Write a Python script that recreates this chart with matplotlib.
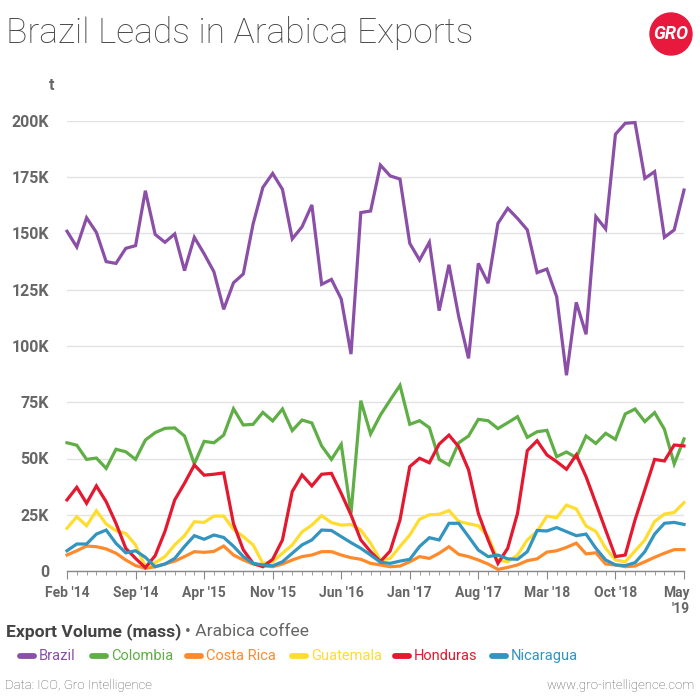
import matplotlib
matplotlib.use("Agg")
import matplotlib.pyplot as plt
import matplotlib.ticker as ticker
import matplotlib.transforms as mtransforms
from matplotlib.lines import Line2D
from matplotlib.patches import Circle
import numpy as np

plt.rcParams['font.family'] = ['Roboto', 'DejaVu Sans']

# monthly exports, thousand tonnes, Feb 2014 .. May 2019
brazil = [151, 144, 157, 150.5, 137.5, 136.7, 143.4, 144.6, 169, 149.6, 146.1, 149.8, 133.5, 148.3, 141, 133,
          116.3, 128.1, 132, 154.2, 170.5, 176.7, 169.6, 147.6, 153, 162.7, 127.4, 129.6, 120.9, 96.4, 159.3, 160,
          180.4, 175.6, 174.2, 145.6, 138.2, 146.1, 115.7, 136.1, 113, 94.5, 136.7, 127.9, 154.5, 161.2, 156.7, 151.6,
          132.6, 134.2, 121.9, 87, 119.4, 105.2, 157.5, 152, 194.1, 199, 199.3, 174.5, 177.5, 148.3, 151.6, 169.3]
colombia = [57, 55.9, 49.6, 50.2, 45.6, 54.1, 53, 49.6, 58.2, 61.5, 63.4, 63.6, 60, 47.6, 57.6, 57,
            60.4, 72.1, 64.9, 65.2, 70.5, 66.7, 72, 62.4, 67.1, 65.8, 55.6, 49.6, 56.3, 25.6, 75.7, 60.9,
            69.3, 76, 82.5, 65.2, 66.8, 63.7, 49.6, 47.1, 57, 60, 67.4, 66.8, 63.3, 65.9, 68.6, 59.4,
            61.9, 62.5, 50.8, 52.9, 50.4, 60, 56.7, 61.2, 58.5, 69.8, 72, 66.4, 70.4, 63, 47.6, 58.7]
costa_rica = [7.1, 9, 11.1, 10.8, 9.8, 7.9, 4.9, 2.4, 1.2, 1.9, 3.1, 4.4, 6.4, 8.6, 8.3, 8.7,
              11.1, 7.1, 4.9, 3.1, 2.3, 1.9, 3.1, 4.9, 6.4, 7.1, 8.6, 8.6, 7.1, 5.9, 5.2, 3.4,
              2.7, 1.9, 2.2, 4.1, 6.4, 5.6, 7.9, 10.8, 7.4, 6.4, 4.9, 3.1, 0.7, 1.6, 2.7, 4.6,
              5.4, 8.4, 9, 10.5, 12.4, 7.6, 8.1, 3.1, 2.7, 1.9, 2.2, 4.1, 6.1, 7.9, 9.5, 9.5]
guatemala = [19, 24.1, 20.1, 26.8, 20.9, 17.9, 16.7, 11.6, 2, 3.7, 6.4, 11.6, 15.7, 21.9, 21.6, 24.4,
             24.4, 18.5, 15.3, 11.6, 3.4, 4.1, 7.9, 11.6, 17.4, 20.4, 24.6, 21.5, 20.4, 20.7, 18.2, 12.3,
             4.9, 5.6, 10.9, 16, 23, 25, 25.2, 26.9, 22, 21, 20.1, 15.3, 4.9, 4.1, 7.1, 13.8,
             17.6, 24.4, 23.7, 29.3, 27.6, 20, 17.6, 10.1, 4.9, 4.1, 8.9, 13.8, 22, 25.3, 26, 30.4]
honduras = [31.6, 37.2, 30.1, 37.8, 30.8, 21.2, 10.1, 5.6, 1.5, 6.8, 17.6, 31.6, 39, 47.1, 42.6, 43,
            43.6, 21, 9.4, 3.4, 1.9, 5.2, 13.8, 35.3, 42.7, 37.8, 43, 43.4, 34.5, 24.9, 13.8, 8.6,
            4.2, 8.9, 22.7, 46.4, 50.1, 48.1, 56.4, 60.4, 55.2, 45, 25.6, 13.8, 3.4, 10.1, 25.6, 53.5,
            57.9, 51.6, 48.6, 45.2, 51.6, 41.9, 30.1, 18.2, 6.4, 7.1, 22.7, 36.1, 49.6, 48.9, 56, 55.6]
nicaragua = [9, 12, 12, 16.4, 18.2, 12.3, 8.1, 9, 6.1, 1.9, 3.1, 5.6, 10.9, 15.7, 14.1, 16,
             14.9, 11, 6.4, 3.4, 2.7, 2.3, 4.1, 7.9, 11.6, 13.8, 18.2, 18, 15.3, 12.6, 10.1, 7.1,
             3.9, 3.4, 4.4, 5.2, 10.9, 14.8, 13.8, 21.2, 21.2, 15.3, 9.3, 6.4, 7.1, 5.4, 5.2, 8.6,
             18, 17.8, 19.3, 17.5, 15.7, 16.4, 10.1, 4.9, 2.7, 2.4, 3.7, 8.6, 16.4, 21.2, 21.6, 20.7]

names = ['Brazil', 'Colombia', 'Costa Rica', 'Guatemala', 'Honduras', 'Nicaragua']
colors = ['#8b4fa8', '#5fae46', '#ff8a2c', '#ffdd2e', '#e4192f', '#3395bf']
series = [brazil, colombia, costa_rica, guatemala, honduras, nicaragua]
xtick_labels = ["Feb '14", "Sep '14", "Apr '15", "Nov '15", "Jun '16", "Jan '17",
                "Aug '17", "Mar '18", "Oct '18", "May\n'19"]

W, H = 700, 700
fig = plt.figure(figsize=(7, 7), dpi=100)
ax = fig.add_axes([67 / W, 1 - 571 / H, (684 - 67) / W, 450 / H])

x = np.arange(len(brazil))
for vals, col in zip(series, colors):
    ax.plot(x, np.array(vals) * 1000, color=col, lw=2.3, clip_on=False,
            solid_joinstyle='miter', zorder=3)

ax.set_xlim(0, len(brazil) - 1)
ax.set_ylim(0, 200000)
ax.yaxis.set_major_locator(ticker.MultipleLocator(25000))


def kfmt(v, pos):
    return '0' if v == 0 else '{:.0f}K'.format(v / 1000)


ax.yaxis.set_major_formatter(ticker.FuncFormatter(kfmt))
ax.grid(axis='y', color='#e2e2e2', lw=1, zorder=0)
for s in ['top', 'right', 'left']:
    ax.spines[s].set_visible(False)
ax.spines['bottom'].set_color('#888888')
ax.spines['bottom'].set_linewidth(1)
ax.spines['bottom'].set_zorder(2)

ax.set_xticks(x[::7])
ax.set_xticklabels(xtick_labels)
ax.set_xticks(x, minor=True)
ax.tick_params(axis='x', which='major', length=6, color='#888888', pad=5,
               labelsize=10, labelcolor='#666666')
ax.tick_params(axis='x', which='minor', length=3, color='#888888')
ax.tick_params(axis='y', length=0, pad=13, labelsize=11.5, labelcolor='#666666')
for lab in ax.get_xticklabels():
    lab.set_fontweight('bold')
for lab in ax.get_yticklabels():
    lab.set_fontweight('bold')
lastlab = ax.get_xticklabels()[-1]
lastlab.set_horizontalalignment('right')
lastlab.set_multialignment('right')
lastlab.set_transform(lastlab.get_transform() +
                      mtransforms.ScaledTranslation(4 / 72, 0, fig.dpi_scale_trans))


def fx(px):
    return px / W


def fy(py):
    return 1 - py / H


fig.text(fx(6), fy(43.5), 'Brazil Leads in Arabica Exports', fontsize=25.5, fontweight='light',
         color='#444444', va='baseline', ha='left')
fig.text(fx(49), fy(90.5), 't', fontsize=11.5, fontweight='bold', color='#666666',
         va='baseline', ha='left')

# logo
fig.patches.append(Circle((fx(671), fy(34)), 21 / W, transform=fig.transFigure,
                          color='#e8193c'))
fig.text(fx(671), fy(34), 'GRO', fontsize=13, fontweight='bold', color='white',
         ha='center', va='center', fontstyle='italic')

t1 = fig.text(fx(6), fy(636), 'Export Volume (mass)', fontsize=12.6, fontweight='bold',
              color='#444444', va='baseline')
fig.canvas.draw()
bb = t1.get_window_extent()
fig.text(bb.x1 / W + fx(4), fy(636), '• Arabica coffee', fontsize=12.6, color='#666666',
         va='baseline')

leg_line_x = [20, 92, 187, 292, 395, 492]
for name, col, lx in zip(names, colors, leg_line_x):
    fig.add_artist(Line2D([fx(lx), fx(lx + 14)], [fy(656), fy(656)], color=col, lw=4.2,
                          solid_capstyle='round', transform=fig.transFigure))
    fig.text(fx(lx + 19), fy(656), name, color=col, fontsize=10.5, va='center')

fig.text(fx(5), fy(689), 'Data: ICO, Gro Intelligence', fontsize=9.5, fontweight='light',
         color='#555555', va='baseline')
fig.text(fx(695), fy(689), 'www.gro-intelligence.com', fontsize=9.5, fontweight='light',
         color='#555555', va='baseline', ha='right')

fig.savefig('out.png', dpi=100, facecolor='white')
